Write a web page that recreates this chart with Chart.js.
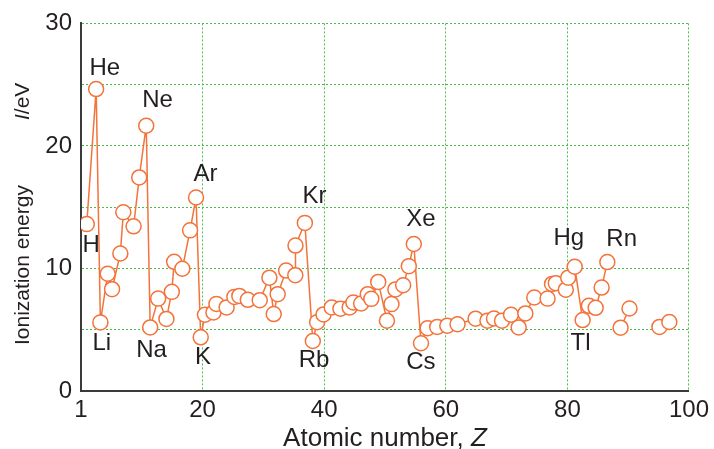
<!DOCTYPE html>
<html><head><meta charset="utf-8">
<script src="https://cdn.jsdelivr.net/npm/chart.js@4/dist/chart.umd.min.js"></script>
<style>html,body{margin:0;padding:0;background:#fff}#wrap{width:714px;height:449px;position:relative}</style>
</head><body><div id="wrap"><canvas id="c"></canvas></div>
<script>
// Atomic number (x) and first ionization energy in eV (y); null marks a break in the line
const atomicNumbers = [
  0.95, 2.49, 3.19, 4.39, 5.11, 6.47, 6.96, 8.65, 9.58, 10.73,
  11.38, 12.69, 14.05, 14.94, 15.32, 16.67, 17.94, 18.92, 19.69, 20.39,
  21.79, 22.28, 23.95, 25.23, 26.04, 27.44, 29.40, 30.99, 31.70, 32.35,
  33.74, 35.25, 35.28, 36.82, 38.13, 38.84, 39.89, 41.24, 42.67, 44.19,
  44.80, 46.08, 47.17, 47.75, 48.89, 50.32, 51.07, 51.71, 52.99, 53.92,
  54.74, 55.92, 57.02, 58.59, 60.25, 61.93, 64.90, 66.85, 67.93, 69.25,
  70.73, 71.99, 73.09, 74.56, 76.74, 77.48, 78.10, 79.74, 80.13, 81.21,
  82.51, 83.54, 84.65, 85.63, 86.57, null, 88.75, 90.22, null, 95.14, 96.77
];
const ionizationEnergies = [
  13.62, 24.64, 5.60, 9.57, 8.31, 11.22, 14.59, 13.44, 17.43, 21.65,
  5.19, 7.54, 5.88, 8.09, 10.54, 9.98, 13.11, 15.79, 4.38, 6.22,
  6.41, 7.11, 6.82, 7.68, 7.76, 7.44, 7.41, 9.25, 6.28, 7.90,
  9.83, 9.45, 11.87, 13.72, 4.08, 5.62, 6.25, 6.82, 6.71, 6.82,
  7.22, 7.14, 7.90, 7.52, 8.90, 5.74, 7.09, 8.29, 8.63, 10.19,
  12.00, 3.90, 5.13, 5.23, 5.33, 5.45, 5.90, 5.74, 5.92, 5.74,
  6.22, 5.19, 6.33, 7.63, 7.54, 8.74, 8.80, 8.27, 9.25, 10.14,
  5.79, 6.95, 6.79, 8.44, 10.52, null, 5.17, 6.73, null, 5.23, 5.63
];
// tick labels
const xTickValues = [0, 20, 40, 60, 80, 100];
const xTickLabels = ['1', '20', '40', '60', '80', '100'];
const yTickLabels = ['0', '10', '20', '30'];
// element annotations: text, anchor (left edge) in data units
const elementLabels = ['He', 'Ne', 'Ar', 'Kr', 'Xe', 'Hg', 'Rn', 'H', 'Li', 'Na', 'K', 'Rb', 'Cs', 'Tl'];
const labelZ  = [1.39, 10.07, 18.51, 36.45, 53.48, 77.72, 86.40, 0.25, 1.88, 9.09, 18.76, 35.80, 53.48, 80.51];
const labelIE = [26.32, 23.73, 17.69, 15.87, 14.00, 12.46, 12.38, 11.90, 3.87, 3.31, 2.74, 2.50, 2.33, 3.87];

const FONT = '"Liberation Sans", Arial, Helvetica, sans-serif';
const TEXT = '#231f20';
const ORANGE = '#f3733a';
const GRID = '#4cbc4c';

const points = atomicNumbers.map((z, i) => ({x: z, y: ionizationEnergies[i]}));

const annotations = {
  id: 'annotations',
  afterDatasetsDraw(chart) {
    const {ctx, scales: {x, y}} = chart;
    ctx.save();
    ctx.fillStyle = TEXT;
    ctx.font = '24px ' + FONT;
    ctx.textAlign = 'left';
    ctx.textBaseline = 'middle';
    elementLabels.forEach((t, i) => {
      ctx.fillText(t, x.getPixelForValue(labelZ[i]), y.getPixelForValue(labelIE[i]));
    });
    ctx.restore();
  },
  afterDraw(chart) {
    const {ctx, chartArea} = chart;
    ctx.save();
    ctx.fillStyle = TEXT;
    ctx.textBaseline = 'alphabetic';
    // x title
    const part1 = 'Atomic number, ';
    const part2 = 'Z';
    ctx.font = '26px ' + FONT;
    const w1 = ctx.measureText(part1).width;
    ctx.font = 'italic 26px ' + FONT;
    const w2 = ctx.measureText(part2).width;
    const cx = (chartArea.left + chartArea.right) / 2;
    const start = cx - (w1 + w2) / 2;
    const base = chart.height - 3;
    ctx.font = '26px ' + FONT;
    ctx.textAlign = 'left';
    ctx.fillText(part1, start, base);
    ctx.font = 'italic 26px ' + FONT;
    ctx.fillText(part2, start + w1, base);
    // y title
    ctx.translate(29, 345);
    ctx.rotate(-Math.PI / 2);
    ctx.font = '21px ' + FONT;
    ctx.fillText('Ionization energy', 0, 0);
    ctx.translate(225, 0);
    ctx.font = 'italic 21px ' + FONT;
    ctx.fillText('I', 0, 0);
    const wi = ctx.measureText('I').width;
    ctx.font = '21px ' + FONT;
    ctx.fillText('/eV', wi, 0);
    ctx.restore();
  }
};

new Chart(document.getElementById('c'), {
  type: 'line',
  data: {
    datasets: [{
      data: points,
      borderColor: ORANGE,
      borderWidth: 1.5,
      pointRadius: 7.5,
      pointHoverRadius: 7.5,
      pointBackgroundColor: '#ffffff',
      pointBorderColor: ORANGE,
      pointBorderWidth: 1.5,
      tension: 0,
      spanGaps: false
    }]
  },
  options: {
    responsive: true,
    maintainAspectRatio: false,
    animation: false,
    events: [],
    layout: {padding: {left: 0, right: 21, top: 21, bottom: 0}},
    plugins: {legend: {display: false}, tooltip: {enabled: false}},
    scales: {
      x: {
        type: 'linear',
        min: 0, max: 100,
        afterBuildTicks(scale) { scale.ticks = xTickValues.map(v => ({value: v})); },
        afterFit(scale) { scale.height = 58; },
        ticks: {
          autoSkip: false,
          maxRotation: 0,
          padding: 5,
          color: TEXT,
          font: {family: FONT, size: 24},
          callback: (v) => xTickLabels[xTickValues.indexOf(v)]
        },
        grid: {color: GRID, lineWidth: 1, drawTicks: false},
        border: {display: true, color: '#3a3a3a', width: 2, dash: [2, 2]}
      },
      y: {
        type: 'linear',
        min: 0, max: 30,
        afterFit(scale) { scale.width = 81; },
        ticks: {
          stepSize: 5,
          padding: 9,
          color: TEXT,
          font: {family: FONT, size: 24},
          callback: (v) => (v % 10 === 0 ? yTickLabels[v / 10] : '')
        },
        grid: {color: GRID, lineWidth: 1, drawTicks: false},
        border: {display: true, color: '#3a3a3a', width: 2, dash: [2, 2]}
      }
    }
  },
  plugins: [annotations]
});
</script>
</body></html>
